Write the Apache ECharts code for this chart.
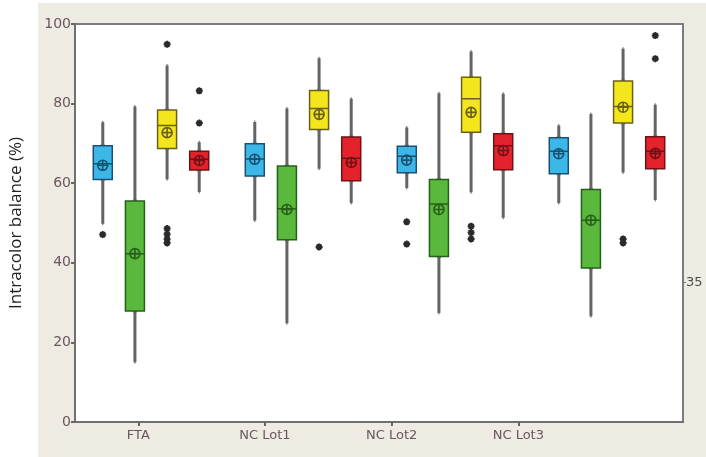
<!DOCTYPE html>
<html>
<head>
<meta charset="utf-8">
<script src="https://cdn.jsdelivr.net/npm/echarts@6/dist/echarts.min.js"></script>
<style>html,body{margin:0;padding:0;background:#fff}#c{width:706px;height:457px}</style>
</head>
<body>
<div id="c"></div>
<script>
// ---- data ----
var categories = ['FTA', 'NC Lot1', 'NC Lot2', 'NC Lot3'];
// [whisker low, Q1, median, Q3, whisker high]
var blueBox   = [[49.8, 60.9, 64.9, 69.4, 75.3], [50.6, 61.8, 66.1, 69.9, 75.4], [58.8, 62.6, 66.8, 69.3, 74.0], [55.0, 62.4, 68.0, 71.4, 74.5]];
var greenBox  = [[15.0, 27.9, 42.3, 55.5, 79.3], [24.8, 45.8, 53.6, 64.3, 78.8], [27.4, 41.6, 54.8, 60.9, 82.6], [26.6, 38.7, 50.7, 58.4, 77.4]];
var yellowBox = [[61.0, 68.7, 74.5, 78.4, 89.6], [63.6, 73.5, 78.8, 83.3, 91.4], [57.7, 72.8, 81.2, 86.6, 93.1], [62.7, 75.1, 79.3, 85.7, 93.8]];
var redBox    = [[57.8, 63.3, 66.0, 68.0, 70.3], [55.0, 60.6, 66.3, 71.6, 81.2], [51.3, 63.4, 69.4, 72.4, 82.5], [55.8, 63.6, 68.0, 71.7, 79.7]];
var blueMean   = [64.5, 66.0, 65.8, 67.4];
var greenMean  = [42.3, 53.4, 53.4, 50.7];
var yellowMean = [72.7, 77.3, 77.8, 79.1];
var redMean    = [65.7, 65.2, 68.2, 67.5];
// outliers: [category index, value]
var blueOut   = [[0, 47.1], [2, 50.3], [2, 44.7]];
var greenOut  = [];
var yellowOut = [[0, 94.9], [0, 48.6], [0, 47.2], [0, 45.9], [0, 45.0], [1, 44.0], [2, 49.2], [2, 47.6], [2, 46.0], [3, 46.0], [3, 45.0]];
var redOut    = [[0, 83.2], [0, 75.1], [3, 97.1], [3, 91.3]];
var yTicks = [0, 20, 40, 60, 80, 100];
var rightMark = [35];
var labelAxisPos = [0.5, 1.5, 2.5, 3.5];

// ---- styles ----
var fills   = ['#3cb8e8', '#5ab83c', '#f3e61c', '#e4222c'];
var borders = ['#1c4f70', '#27601a', '#6a601c', '#6e1216'];
var whiskerColor = '#646464';
var labelColor = '#6a5660';

var gridL = 74, gridR = 23, gridT = 24, gridB = 35, W = 706;
var gridW = W - gridL - gridR;
// replicate ECharts boxplot side-by-side layout to place symbols
var band = gridW / categories.length;
var avail = band * 0.8 - 2;
var gapW = avail / 4 * 0.3;
var bw = (avail - gapW * 3) / 4;
function offsetOf(k) { return bw / 2 - avail / 2 + k * (gapW + bw); }

var boxes = [blueBox, greenBox, yellowBox, redBox];
var means = [blueMean, greenMean, yellowMean, redMean];
var outs = [blueOut, greenOut, yellowOut, redOut];

var series = [];
for (var k = 0; k < 4; k++) {
  // whiskers (thick grey lines)
  series.push({
    type: 'boxplot', xAxisIndex: 1, yAxisIndex: 0, silent: true, z: 2,
    boxWidth: [1, 1],
    itemStyle: { color: whiskerColor, borderColor: whiskerColor, borderWidth: 3 },
    data: boxes[k]
  });
}
for (var k = 0; k < 4; k++) {
  // boxes (IQR + median)
  series.push({
    type: 'boxplot', xAxisIndex: 0, yAxisIndex: 0, silent: true, z: 3,
    boxWidth: [19, 19],
    itemStyle: { color: fills[k], borderColor: borders[k], borderWidth: 1.5 },
    data: boxes[k].map(function (d) { return [d[1], d[1], d[2], d[3], d[3]]; })
  });
}
var meanPath = 'path://M0,5 A5,5,0,1,1,10,5 A5,5,0,1,1,0,5 Z M0,5 L10,5 M5,0 L5,10';
var starPath = 'path://M5,0 L5,10 M0,5 L10,5 M1.5,1.5 L8.5,8.5 M8.5,1.5 L1.5,8.5';
for (var k = 0; k < 4; k++) {
  series.push({
    type: 'scatter', xAxisIndex: 0, yAxisIndex: 0, silent: true, z: 5,
    symbol: meanPath, symbolSize: 10, symbolOffset: [offsetOf(k), 0],
    itemStyle: { color: 'rgba(0,0,0,0)', borderColor: borders[k], borderWidth: 1.6, opacity: 1 },
    data: means[k].map(function (v, i) { return [i, v]; })
  });
  series.push({
    type: 'scatter', xAxisIndex: 0, yAxisIndex: 0, silent: true, z: 5,
    symbol: starPath, symbolSize: 7, symbolOffset: [offsetOf(k), 0],
    itemStyle: { color: 'rgba(0,0,0,0)', borderColor: '#2a2a2a', borderWidth: 2, opacity: 1 },
    data: outs[k]
  });
}

var chart = echarts.init(document.getElementById('c'), null, { renderer: 'canvas' });
chart.setOption({
  animation: false,
  backgroundColor: '#ffffff',
  graphic: [{
    type: 'rect', z: -100, silent: true,
    shape: { x: 38, y: 3, width: 668, height: 454 },
    style: { fill: '#eeebe2' }
  }],
  grid: {
    left: gridL, right: gridR, top: gridT, bottom: gridB,
    show: true, backgroundColor: '#ffffff', borderColor: '#7c7c7c', borderWidth: 2
  },
  xAxis: [
    { type: 'category', data: categories, position: 'bottom',
      axisLine: { show: false }, axisTick: { show: false }, axisLabel: { show: false }, splitLine: { show: false } },
    { type: 'category', data: categories, position: 'bottom', show: false },
    { type: 'value', min: 0, max: 4.8, position: 'bottom',
      axisLine: { show: true, lineStyle: { color: '#707070', width: 2 } },
      splitLine: { show: false },
      axisTick: { show: true, customValues: labelAxisPos, length: 4, lineStyle: { color: '#666', width: 2 } },
      axisLabel: { show: true, customValues: labelAxisPos, margin: 7,
        fontFamily: 'DejaVu Sans', fontSize: 13, color: labelColor,
        formatter: function (v) { return categories[Math.round(v - 0.5)]; } } }
  ],
  yAxis: [
    { type: 'value', min: 0, max: 100, interval: 20, position: 'left',
      name: 'Intracolor balance (%)', nameLocation: 'middle', nameGap: 50,
      nameTextStyle: { fontFamily: 'Open Sans', fontSize: 17, color: '#222' },
      axisLine: { show: true, lineStyle: { color: '#707070', width: 2 } },
      axisTick: { show: true, length: 4, lineStyle: { color: '#666', width: 2 } },
      axisLabel: { margin: 4, fontFamily: 'DejaVu Sans', fontSize: 14, color: labelColor,
        customValues: yTicks },
      splitLine: { show: false } },
    { type: 'value', min: 0, max: 100, position: 'right',
      axisLine: { show: false },
      axisTick: { show: true, customValues: rightMark, length: 3, lineStyle: { color: '#777' } },
      axisLabel: { show: true, customValues: rightMark, margin: 3,
        fontFamily: 'DejaVu Sans', fontSize: 13, color: '#4a4a4a' },
      splitLine: { show: false } }
  ],
  series: series
});
</script>
</body>
</html>
